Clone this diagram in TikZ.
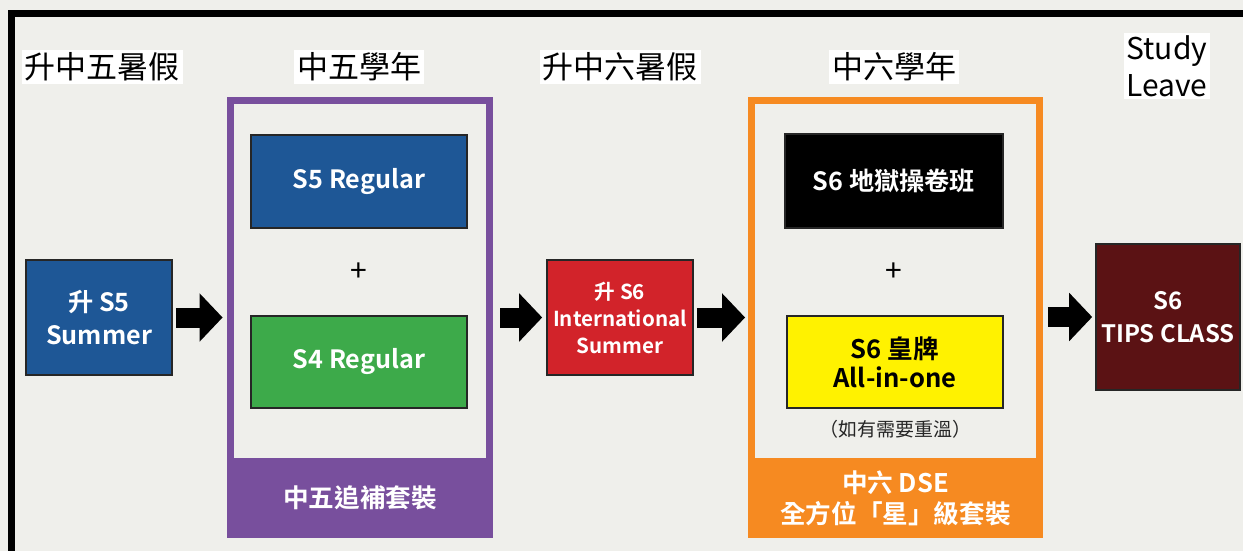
\documentclass[tikz,border=0pt]{standalone}
\usepackage{fontspec}
\setmainfont{Noto Sans CJK TC}[BoldFont={Noto Sans CJK TC Bold}]
\usepackage{tikz}
\usetikzlibrary{positioning,arrows.meta}
\definecolor{marble}{RGB}{239,239,235}
\definecolor{regblue}{RGB}{30,87,150}
\definecolor{reggreen}{RGB}{61,170,74}
\definecolor{summred}{RGB}{210,35,42}
\definecolor{purp}{RGB}{120,79,157}
\definecolor{orng}{RGB}{246,138,33}
\definecolor{yel}{RGB}{255,242,0}
\definecolor{maroon}{RGB}{91,18,20}
\newcommand{\fs}[2]{\fontsize{#1}{#2}\selectfont}

\begin{document}
\begin{tikzpicture}[x=0.5pt,y=-0.5pt,
    box/.style={draw=black!85,line width=0.8pt,text=white,align=center,inner sep=0pt,
        font=\bfseries\fs{12.6}{16.5}},
    head/.style={fill=white,inner sep=1.5pt,font=\fs{15.5}{18.5},align=center},
    band/.style={text=white,align=center,inner sep=0pt,font=\bfseries\fs{12.8}{15.5}},
    yearframe/.style={draw=none,inner sep=0pt},
    flow/.style={line width=10pt,-{Triangle[length=11.5pt,width=23.5pt]},
        shorten <=1.5pt,shorten >=3.75pt}]
    \useasboundingbox (0,0) rectangle (1243,551);
    \fill[marble] (0,0) rectangle (1243,551);
    \begin{scope}
        \clip (0,0) rectangle (1243,551);
        \draw[line width=3.5pt] (11.5,13.5) rectangle (1300,600);
    \end{scope}

    % headers
    \node[head] (h1) at (102,67) {升中五暑假};
    \node[head] (h2) at (359,67) {中五學年};
    \node[head] (h3) at (620,67) {升中六暑假};
    \node[head] (h4) at (894,67) {中六學年};
    \node[head,inner sep=1pt,font=\fs{15}{18.5}] (h5) at (1167,66) {Study\\Leave};

    % summer before S5
    \node[box,fill=regblue,minimum width=73pt,minimum height=57.5pt] (sum5) at (99,317.5) {升 S5\\Summer};

    % S5 year
    \node[yearframe,minimum width=129.5pt,minimum height=178.75pt] (s5year) at (360,279.25) {};
    \draw[purp,line width=3.5pt] (s5year.south west) |- (s5year.north) -| (s5year.south east);
    \node[box,fill=regblue,minimum width=108pt,minimum height=46.5pt] (s5reg) at (359,181.5) {S5 Regular};
    \node[box,fill=reggreen,minimum width=108pt,minimum height=46pt] (s4reg) at (359,362) {S4 Regular};
    \node[font=\fs{15}{17}] (plus5) at (359,272) {+};
    \node[band,fill=purp,minimum width=133pt,minimum height=40pt] (s5pack) at (360,498) {中五追補套裝};

    % summer before S6
    \node[box,fill=summred,minimum width=73pt,minimum height=57.5pt,font=\bfseries\fs{10.3}{13.5}] (sum6) at (620,317.5) {升 S6\\International\\Summer};

    % S6 year
    \node[yearframe,minimum width=144pt,minimum height=178.75pt] (s6year) at (895.5,279.25) {};
    \draw[orng,line width=3.5pt] (s6year.south west) |- (s6year.north) -| (s6year.south east);
    \node[box,fill=black,minimum width=109pt,minimum height=47pt] (hell) at (894,181) {S6 地獄操卷班};
    \node[box,fill=yel,text=black,minimum width=108pt,minimum height=46pt,font=\bfseries\fs{12.8}{14.5}] (allin) at (895,362) {S6 皇牌\\All-in-one};
    \node[font=\fs{15}{17}] (plus6) at (894,272) {+};
    \node[below=2pt of allin,font=\fs{9.5}{11},text=black!85] (recap) {（如有需要重溫）};
    \node[band,fill=orng,minimum width=147.5pt,minimum height=40pt] (s6pack) at (895.5,498) {中六 DSE\\全方位「星」級套裝};

    % study leave
    \node[box,fill=maroon,minimum width=72pt,minimum height=73pt,font=\bfseries\fs{12}{16.5}] (tips) at (1168,317) {S6\\TIPS CLASS};

    % block arrows
    \draw[flow] (sum5.east) -- (sum5.east -| s5year.west);
    \draw[flow,shorten <=5.25pt,shorten >=2pt] (s5year.east |- sum6.west) -- (sum6.west);
    \draw[flow,shorten >=3pt] (sum6.east) -- (sum6.east -| s6year.west);
    \draw[flow,shorten <=4pt,shorten >=1.5pt] (s6year.east |- tips.west) -- (tips.west);
\end{tikzpicture}
\end{document}
